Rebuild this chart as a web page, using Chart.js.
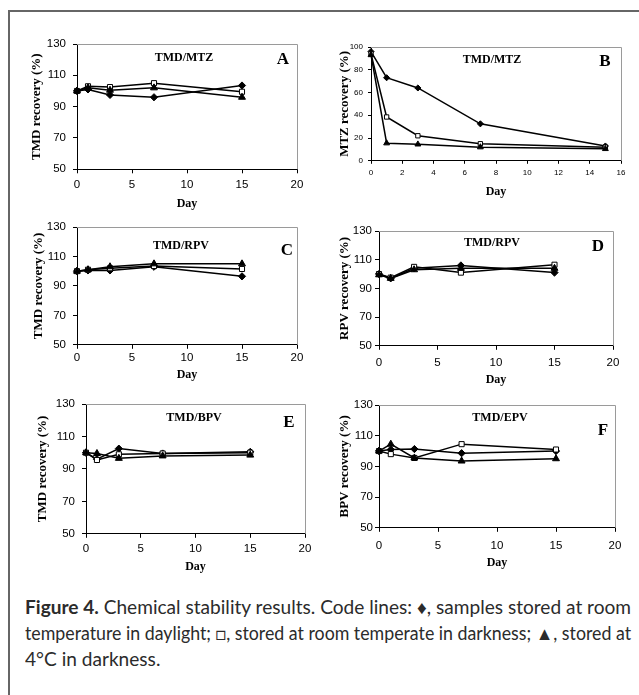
<!DOCTYPE html>
<html>
<head>
<meta charset="utf-8">
<script src="https://cdn.jsdelivr.net/npm/chart.js@4.4.0/dist/chart.umd.min.js"></script>
<style>
  html, body { margin: 0; padding: 0; background: #fff; }
  body { width: 639px; height: 695px; position: relative; overflow: hidden; }
  #frameTop { position: absolute; left: 8px; top: 10px; width: 631px; height: 2px; background: #666; }
  #frameLeft { position: absolute; left: 8px; top: 10px; width: 2px; height: 685px; background: #666; }
  canvas { position: absolute; }
  #caption { position: absolute; left: 25px; top: 594px; width: 606px;
             font-family: Lato, "Open Sans", sans-serif; font-size: 18.5px; line-height: 26px; color: #2b2b2b; }
  #caption .ln { display: block; height: 26px; white-space: nowrap; }
  #caption .ln span { display: inline-block; white-space: pre; transform-origin: 0 50%; }
  #caption b { font-weight: bold; }
</style>
</head>
<body>
<div id="frameTop"></div>
<div id="frameLeft"></div>
<canvas id="cA"></canvas>
<canvas id="cB"></canvas>
<canvas id="cC"></canvas>
<canvas id="cD"></canvas>
<canvas id="cE"></canvas>
<canvas id="cF"></canvas>
<div id="caption">
  <div class="ln"><span><b>Figure 4.</b> Chemical stability results. Code lines: ♦, samples stored at room</span></div>
  <div class="ln"><span>temperature in daylight; □, stored at room temperate in darkness; ▲, stored at</span></div>
  <div class="ln"><span>4°C in darkness.</span></div>
</div>
<script>
// ---------------- DATA ----------------
const days = [0, 1, 3, 7, 15];

// Panel A: TMD/MTZ (TMD recovery %)
const A_daylight = [100, 101, 97.5, 96, 103.5];
const A_dark     = [100, 103, 102.5, 105, 99.5];
const A_cold     = [100, 102, 100.5, 102, 96];

// Panel B: TMD/MTZ (MTZ recovery %)
const B_daylight = [96, 73, 64, 32.5, 13];
const B_dark     = [94, 38.5, 22, 15, 12];
const B_cold     = [93, 15.5, 14.5, 12, 10.5];

// Panel C: TMD/RPV (TMD recovery %)
const C_daylight = [100, 100.5, 100.5, 103, 96.5];
const C_dark     = [100, 101, 102, 103.5, 101.5];
const C_cold     = [100, 101, 103, 105, 105];

// Panel D: TMD/RPV (RPV recovery %)
const D_daylight = [100, 97, 104, 106, 101];
const D_dark     = [100, 97.5, 105, 101, 106.5];
const D_cold     = [99.5, 97, 103, 104, 104];

// Panel E: TMD/BPV (TMD recovery %)
const E_daylight = [100, 96, 102.5, 99.5, 100.5];
const E_dark     = [100, 95.5, 99, 99.5, 100];
const E_cold     = [100, 99.5, 96.5, 98, 98.5];

// Panel F: TMD/EPV (BPV recovery %)
const F_daylight = [100, 101, 101.3, 98.6, 100];
const F_dark     = [100, 98, 95.5, 104.5, 101];
const F_cold     = [100, 104.5, 95.5, 93.5, 95];

// axis ranges / tick steps
const xRangeStd = [0, 20, 5];
const xRangeB   = [0, 16, 2];
const yRangeStd = [50, 130, 20];
const yRangeB   = [0, 100, 20];

// text labels
const innerTitles = { A: 'TMD/MTZ', B: 'TMD/MTZ', C: 'TMD/RPV', D: 'TMD/RPV', E: 'TMD/BPV', F: 'TMD/EPV' };
const yTitles = { A: 'TMD recovery (%)', B: 'MTZ recovery (%)', C: 'TMD recovery (%)',
                  D: 'RPV recovery (%)', E: 'TMD recovery (%)', F: 'BPV recovery (%)' };
const xTitle = 'Day';

// ---------------- LAYOUT (page pixels) ----------------
const layoutInfo = {
  A: { L: 77,  R: 297, T: 44,  B: 169.5, yTitleX: 37,  dayY: 204, xLabY: 185, yLabR: 66,  tick: 11.5, tickFam: 'Liberation Sans', tl: 4,
       title: [184, 58], letter: [283, 60] },
  B: { L: 371, R: 621, T: 47,  B: 161,   yTitleX: 345, dayY: 192, xLabY: 173, yLabR: 363, tick: 8,  tickFam: 'Liberation Sans', tl: 3,
       title: [492, 60], letter: [605, 62] },
  C: { L: 77,  R: 297, T: 227, B: 345,   yTitleX: 39,  dayY: 375, xLabY: 358, yLabR: 66,  tick: 11.5, tickFam: 'Liberation Sans', tl: 4,
       title: [181, 246], letter: [287, 251] },
  D: { L: 379, R: 613, T: 231, B: 346,   yTitleX: 345, dayY: 380, xLabY: 363, yLabR: 372, tick: 11.5, tickFam: 'Liberation Sans', tl: 4,
       title: [492, 243], letter: [598, 247] },
  E: { L: 86,  R: 305, T: 404, B: 534,   yTitleX: 43,  dayY: 567, xLabY: 549, yLabR: 75,  tick: 11.5, tickFam: 'Liberation Sans', tl: 4,
       title: [194, 418], letter: [289, 423] },
  F: { L: 379, R: 615, T: 405, B: 528,   yTitleX: 345, dayY: 563, xLabY: 546, yLabR: 373, tick: 11.5, tickFam: "'Liberation Sans Narrow', 'Liberation Sans'", tl: 4,
       title: [500, 418], letter: [603, 431] }
};

const panelData = {
  A: [A_daylight, A_dark, A_cold],
  B: [B_daylight, B_dark, B_cold],
  C: [C_daylight, C_dark, C_cold],
  D: [D_daylight, D_dark, D_cold],
  E: [E_daylight, E_dark, E_cold],
  F: [F_daylight, F_dark, F_cold]
};

// ---------------- PLUGIN: plot frame + inner labels ----------------
const panelDecor = {
  id: 'panelDecor',
  beforeDatasetsDraw(chart, args, opts) {
    const { ctx, chartArea: a } = chart;
    ctx.save();
    ctx.strokeStyle = '#9a9a9a';
    ctx.lineWidth = 1;
    ctx.beginPath();
    ctx.moveTo(a.left, Math.round(a.top) + 0.5);
    ctx.lineTo(Math.round(a.right) + 0.5, Math.round(a.top) + 0.5);
    ctx.lineTo(Math.round(a.right) + 0.5, a.bottom);
    ctx.stroke();
    ctx.restore();
  },
  afterDraw(chart, args, opts) {
    const { ctx } = chart;
    ctx.save();
    ctx.fillStyle = '#000';
    ctx.textAlign = 'center';
    ctx.textBaseline = 'middle';
    ctx.font = 'bold 12px "Liberation Serif", serif';
    ctx.fillText(opts.title, opts.titlePos[0], opts.titlePos[1]);
    ctx.font = 'bold 17px "Liberation Serif", serif';
    ctx.fillText(opts.letter, opts.letterPos[0], opts.letterPos[1]);
    ctx.restore();
  }
};

function makePanel(key) {
  const P = layoutInfo[key];
  const isB = key === 'B';
  const xr = isB ? xRangeB : xRangeStd;
  const yr = isB ? yRangeB : yRangeStd;
  const W = 70, padTop = 15, padRight = 25;
  const dayLH = 12 * 1.2;
  const H = P.dayY - P.B + dayLH / 2;
  const cvLeft = P.L - W, cvTop = P.T - padTop;
  const cvW = Math.round(W + (P.R - P.L) + padRight);
  const cvH = Math.round(padTop + (P.B - P.T) + H);
  const yTitleLH = 13 * 1.2;
  const tickLH = P.tick * 1.2;
  const mk = isB ? 0.85 : 1;

  const cv = document.getElementById('c' + key);
  cv.width = cvW; cv.height = cvH;
  cv.style.left = cvLeft + 'px'; cv.style.top = cvTop + 'px';
  cv.style.width = cvW + 'px'; cv.style.height = cvH + 'px';

  const [sDay, sDark, sCold] = panelData[key];
  const base = { borderColor: '#000', borderWidth: 1.5, tension: 0, clip: false, pointBorderColor: '#000', pointBorderWidth: 1 };
  const datasets = [
    Object.assign({}, base, { label: 'cold', data: days.map((d, i) => ({ x: d, y: sCold[i] })),
      pointStyle: 'triangle', pointRadius: 4 * mk, pointBackgroundColor: '#000' }),
    Object.assign({}, base, { label: 'dark', data: days.map((d, i) => ({ x: d, y: sDark[i] })),
      pointStyle: 'rect', pointRadius: 3.6 * mk, pointBackgroundColor: '#fff' }),
    Object.assign({}, base, { label: 'daylight', data: days.map((d, i) => ({ x: d, y: sDay[i] })),
      pointStyle: 'rectRot', pointRadius: 3.6 * mk, pointBackgroundColor: '#000' })
  ];

  const tickFont = { family: P.tickFam, size: P.tick };
  new Chart(cv, {
    type: 'line',
    data: { datasets },
    plugins: [panelDecor],
    options: {
      responsive: false,
      animation: false,
      devicePixelRatio: 1,
      layout: { padding: { left: 0, top: padTop, right: padRight, bottom: 0 } },
      plugins: {
        legend: { display: false },
        tooltip: { enabled: false },
        panelDecor: {
          title: innerTitles[key], letter: key,
          titlePos: [P.title[0] - cvLeft, P.title[1] - cvTop],
          letterPos: [P.letter[0] - cvLeft, P.letter[1] - cvTop]
        }
      },
      scales: {
        x: {
          type: 'linear', position: 'bottom',
          min: xr[0], max: xr[1],
          ticks: { stepSize: xr[2], color: '#000', font: tickFont, maxRotation: 0, autoSkip: false,
                   padding: P.xLabY - P.B - P.tl - tickLH / 2 },
          grid: { display: true, drawOnChartArea: false, drawTicks: true, tickLength: P.tl, color: '#000' },
          border: { display: true, color: '#000', width: 1 },
          title: { display: true, text: xTitle, color: '#000', padding: 0,
                   font: { family: 'Liberation Serif', weight: 'bold', size: 12 } },
          afterFit(s) { s.height = H; }
        },
        y: {
          type: 'linear', position: 'left',
          min: yr[0], max: yr[1],
          ticks: { stepSize: yr[2], color: '#000', font: tickFont, padding: P.L - P.yLabR - P.tl },
          grid: { display: true, drawOnChartArea: false, drawTicks: true, tickLength: P.tl, color: '#000' },
          border: { display: true, color: '#000', width: 1 },
          title: { display: true, text: yTitles[key], color: '#000',
                   padding: { top: P.yTitleX - cvLeft - yTitleLH / 2, bottom: 0 },
                   font: { family: 'Liberation Serif', weight: 'bold', size: 13 } },
          afterFit(s) { s.width = W; }
        }
      }
    }
  });
}

['A', 'B', 'C', 'D', 'E', 'F'].forEach(makePanel);

// fit caption lines to the justified column width
function fitCaption() {
  const spans = document.querySelectorAll('#caption .ln span');
  const target = 606;
  let s0 = 1;
  spans.forEach((sp, i) => {
    const w = sp.getBoundingClientRect().width / (i === 0 ? 1 : 1);
    if (i < 2) {
      const s = target / sp.offsetWidth;
      if (i === 0) s0 = s;
      sp.style.transform = 'scaleX(' + s + ')';
    } else {
      sp.style.transform = 'scaleX(' + s0 + ')';
    }
  });
}
if (document.fonts && document.fonts.ready) { document.fonts.ready.then(fitCaption); }
fitCaption();
</script>
</body>
</html>
